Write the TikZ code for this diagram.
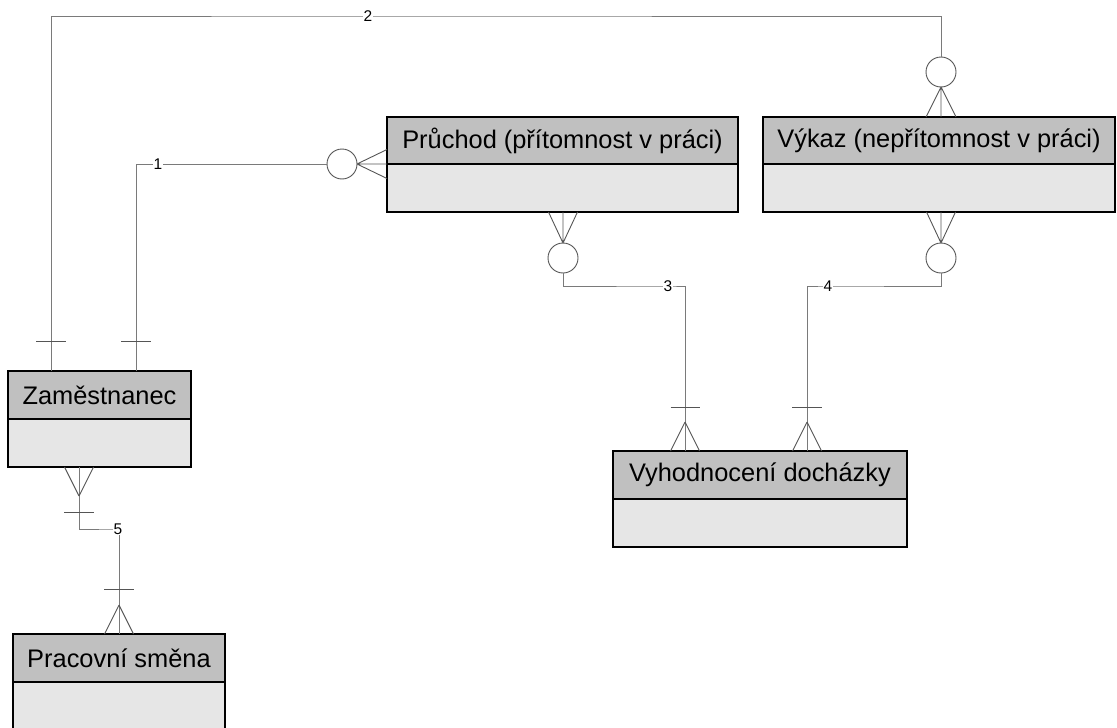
\documentclass[tikz,border=0pt]{standalone}
\usepackage{fontspec}
\setmainfont{Liberation Sans}
\definecolor{hdrgray}{HTML}{C0C0C0}
\definecolor{bodygray}{HTML}{E6E6E6}
\definecolor{conngray}{HTML}{7A7A7A}
\definecolor{crowgray}{HTML}{555555}
\begin{document}
\begin{tikzpicture}[x=1pt,y=-1pt,
  hdr/.style={draw=black, line width=1.4pt, fill=hdrgray, inner sep=0pt, outer sep=0pt,
    anchor=north west, font=\fontsize{25.4}{28}\selectfont, minimum height=47pt},
  bodybox/.style={draw=black, line width=1.4pt, fill=bodygray, inner sep=0pt, outer sep=0pt,
    anchor=north west, minimum height=48pt},
  conn/.style={draw=conngray, line width=0.9pt},
  crow/.style={draw=crowgray, line width=0.9pt},
  opt/.style={circle, draw=crowgray, line width=0.9pt, fill=white, minimum size=30pt, inner sep=0pt, outer sep=0pt},
  lbl/.style={fill=white, inner sep=1pt, font=\fontsize{15.5}{17}\selectfont}]
\useasboundingbox (0,0) rectangle (1117,728);

% entities
\node[bodybox, minimum width=351pt] (prb) at (387,164) {};
\node[hdr, minimum width=351pt] (pr) at (387,117) {Průchod (přítomnost v práci)};
\node[bodybox, minimum width=352pt] (vkb) at (763,164) {};
\node[hdr, minimum width=352pt] (vk) at (763,117) {Výkaz (nepřítomnost v práci)};
\node[bodybox, minimum width=183pt] (zab) at (8,419) {};
\node[hdr, minimum width=183pt, minimum height=48pt] (za) at (8,371) {Zaměstnanec};
\node[bodybox, minimum width=212pt, minimum height=52pt] (psb) at (13,682) {};
\node[hdr, minimum width=212pt, minimum height=48pt] (ps) at (13,634) {Pracovní směna};
\node[bodybox, minimum width=294pt] (vyb) at (613,499) {};
\node[hdr, minimum width=294pt, minimum height=48pt] (vy) at (613,451) {Vyhodnocení docházky};

% optional circles
\node[opt] (o1) at (342,164) {};
\node[opt] (o2) at (941,72) {};
\node[opt] (o3) at (563,258) {};
\node[opt] (o4) at (941,258) {};

% attach coordinates
\coordinate (a1) at (136,371);
\coordinate (a2) at (51,371);
\coordinate (f1) at (387,164);
\coordinate (f2) at (941,117);
\coordinate (f3) at (563,212);
\coordinate (f4) at (941,212);
\coordinate (a3) at (685,451);
\coordinate (a4) at (807,451);
\coordinate (f5) at (79,467);
\coordinate (a5) at (119,634);
\coordinate (t2) at (368,16);
\coordinate (t3) at (668,286);
\coordinate (t4) at (828,286);
\coordinate (t5) at (118,529);

% relationship 1
\draw[conn] (a1) |- (o1.west);
\draw[crow] ([xshift=-15pt,yshift=30pt]a1) -- ([xshift=15pt,yshift=30pt]a1);
\draw[crow] (o1.east) -- ([yshift=14.5pt]f1) (o1.east) -- (f1) (o1.east) -- ([yshift=-14.5pt]f1);
\node[lbl] (l1) at (158,164) {1};

% relationship 2
\draw[conn] (a2) |- (t2) -| (o2.north);
\draw[crow] ([xshift=-15pt,yshift=30pt]a2) -- ([xshift=15pt,yshift=30pt]a2);
\draw[crow] (o2.south) -- ([xshift=-15pt]f2) (o2.south) -- (f2) (o2.south) -- ([xshift=15pt]f2);
\node[lbl] (l2) at (t2) {2};

% relationship 3
\draw[crow] (o3.north) -- ([xshift=-14.5pt]f3) (o3.north) -- (f3) (o3.north) -- ([xshift=14.5pt]f3);
\draw[conn] (o3.south) |- (t3) -| (a3);
\draw[crow] ([xshift=-14.5pt,yshift=44pt]a3) -- ([xshift=15pt,yshift=44pt]a3);
\draw[crow] ([yshift=29pt]a3) -- ([xshift=-14.5pt]a3) ([yshift=29pt]a3) -- ([xshift=14.5pt]a3);
\node[lbl] (l3) at (t3) {3};

% relationship 4
\draw[crow] (o4.north) -- ([xshift=-14.5pt]f4) (o4.north) -- (f4) (o4.north) -- ([xshift=14.5pt]f4);
\draw[conn] (o4.south) |- (t4) -| (a4);
\draw[crow] ([xshift=-15pt,yshift=44pt]a4) -- ([xshift=15pt,yshift=44pt]a4);
\draw[crow] ([yshift=29pt]a4) -- ([xshift=-14.5pt]a4) ([yshift=29pt]a4) -- ([xshift=14.5pt]a4);
\node[lbl] (l4) at (t4) {4};

% relationship 5
\draw[conn] (f5) |- (t5) -| (a5);
\draw[crow] ([yshift=-29pt]f5) -- ([xshift=-14.5pt]f5) ([yshift=-29pt]f5) -- ([xshift=14.5pt]f5);
\draw[crow] ([xshift=-15pt,yshift=-45pt]f5) -- ([xshift=15pt,yshift=-45pt]f5);
\draw[crow] ([xshift=-15pt,yshift=45pt]a5) -- ([xshift=15pt,yshift=45pt]a5);
\draw[crow] ([yshift=29pt]a5) -- ([xshift=-14.5pt]a5) ([yshift=29pt]a5) -- ([xshift=14.5pt]a5);
\node[lbl] (l5) at (t5) {5};
\end{tikzpicture}
\end{document}
